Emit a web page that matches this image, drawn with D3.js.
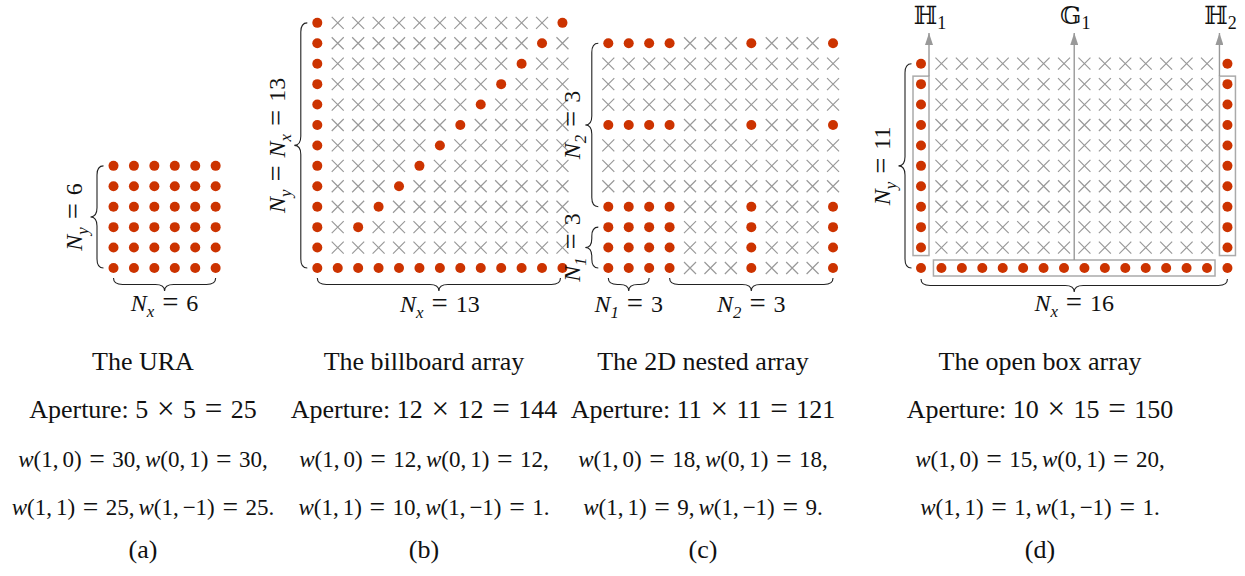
<!DOCTYPE html>
<meta charset="utf-8">
<head>
  <script type="text/javascript" src="https://cdn.jsdelivr.net/npm/d3@7/dist/d3.min.js"></script>
</head>

<style type="text/css">
  body {
    margin: 0;
    background: #fff;
    font-family: "Liberation Serif", "Times New Roman", serif;
  }
  text {
    fill: #111;
  }
  .brace {
    fill: none;
    stroke: #222;
    stroke-width: 1.1px;
  }
  .cross {
    stroke: #999;
    stroke-width: 1.2px;
  }
  .sensor {
    fill: #cc3300;
  }
  .frame {
    fill: none;
    stroke: #aaa;
    stroke-width: 1.5px;
  }
  .arrow {
    stroke: #999;
    stroke-width: 1.4px;
  }
</style>

<body>
</body>

<script type="text/javascript">

var width = 1245,
    height = 576;

var spacing = 20.43,
    rowBase = 268;

// one entry per subfigure
var gridCols = [6, 13, 12, 16];
var gridRows = [6, 13, 12, 11];
var gridLeft = [113.5, 317.3, 608.3, 921];

var nestedIdx = [0, 1, 2, 3, 7, 11];
var billboardDiag = [2, 3, 4, 5, 6, 7, 8, 9, 10, 11, 12];

var titles = ["The URA", "The billboard array", "The 2D nested array", "The open box array"];
var apertureA = [5, 12, 11, 10];
var apertureB = [5, 12, 11, 15];
var apertureSize = [25, 144, 121, 150];
var w10 = [30, 12, 18, 15];
var w01 = [30, 12, 18, 20];
var w11 = [25, 10, 9, 1];
var w1m1 = [25, 1, 9, 1];
var captions = ["(a)", "(b)", "(c)", "(d)"];
var textCenter = [143, 424, 703, 1040];

var isSensor = [
  function(c, r) { return true; },
  function(c, r) { return c == 0 || r == 0 || (c == r && billboardDiag.indexOf(r) >= 0); },
  function(c, r) { return nestedIdx.indexOf(c) >= 0 && nestedIdx.indexOf(r) >= 0; },
  function(c, r) { return c == 0 || c == 15 || r == 0; }
];

var svg = d3.select("body").append("svg")
    .attr("width", width)
    .attr("height", height);

svg.append("defs").append("marker")
    .attr("id", "head")
    .attr("viewBox", "0 0 12 8")
    .attr("refX", 12)
    .attr("refY", 4)
    .attr("markerWidth", 12)
    .attr("markerHeight", 8)
    .attr("markerUnits", "userSpaceOnUse")
    .attr("orient", "auto")
  .append("path")
    .attr("d", "M0,0 L12,4 L0,8 Z")
    .attr("fill", "#999");

// scales for every panel
var xs = [], ys = [];
for (var p = 0; p < 4; p++) {
  xs.push(d3.scaleLinear().domain([0, gridCols[p] - 1])
    .range([gridLeft[p], gridLeft[p] + spacing * (gridCols[p] - 1)]));
  ys.push(d3.scaleLinear().domain([0, gridRows[p] - 1])
    .range([rowBase, rowBase - spacing * (gridRows[p] - 1)]));
}

function bracePath(x1, y1, x2, y2, amp) {
  var dx = x2 - x1, dy = y2 - y1, L = Math.hypot(dx, dy),
      ux = dx / L, uy = dy / L, nx = -uy, ny = ux;
  function pt(t, h) { return [x1 + ux * t + nx * h, y1 + uy * t + ny * h]; }
  var h = amp / 2, r = Math.min(amp * 0.7, L / 4), m = L / 2;
  var path = d3.path();
  var a = pt(0, 0); path.moveTo(a[0], a[1]);
  var c1 = pt(0, h), e1 = pt(r, h); path.quadraticCurveTo(c1[0], c1[1], e1[0], e1[1]);
  var l1 = pt(m - r, h); path.lineTo(l1[0], l1[1]);
  var c2 = pt(m, h), e2 = pt(m, amp); path.quadraticCurveTo(c2[0], c2[1], e2[0], e2[1]);
  var e3 = pt(m + r, h); path.quadraticCurveTo(c2[0], c2[1], e3[0], e3[1]);
  var l2 = pt(L - r, h); path.lineTo(l2[0], l2[1]);
  var c4 = pt(L, h), e4 = pt(L, 0); path.quadraticCurveTo(c4[0], c4[1], e4[0], e4[1]);
  return path.toString();
}

// tiny TeX-ish typesetter: letters italic, _x subscript, = and x-sign spaced, thin space after commas
function mathText(g, str, size, lead) {
  var t = g.append("text").style("font-size", size + "px");
  if (lead) t.append("tspan").text(lead);
  var runs = [];
  for (var i = 0; i < str.length; i++) {
    var ch = str[i];
    if (ch == " ") continue;
    if (ch == "_") { runs.push({s: str[++i], k: "s"}); continue; }
    var k = /[A-Za-z]/.test(ch) ? "i" : (ch == "=" || ch == "\u00D7") ? "op" : "u";
    var last = runs[runs.length - 1];
    if (k != "op" && last && last.k == k && !last.thin) last.s += ch;
    else runs.push({s: ch, k: k});
    if (ch == ",") runs[runs.length - 1].thin = true;
  }
  var pending = lead ? size * 0.25 : 0, shift = 0, pad = size * 0.33;
  runs.forEach(function(d) {
    var ts = t.append("tspan").text(d.s);
    var dx = pending, want = 0;
    if (d.k == "i" || d.k == "s") ts.style("font-style", "italic");
    if (d.k == "s") {
      ts.style("font-size", (size * 0.7) + "px");
      want = size * 0.25;
    }
    if (d.k == "op") {
      // slightly larger relation glyph, pulled back down to the math axis
      ts.style("font-size", (size * 1.2) + "px");
      want = size * 0.05;
      dx += pad;
    }
    if (want != shift) { ts.attr("dy", want - shift); shift = want; }
    if (dx) ts.attr("dx", dx);
    pending = d.k == "op" ? pad : (d.thin ? size * 0.17 : 0);
  });
  return t;
}

function drawBrace(x1, y1, x2, y2) {
  svg.append("path").attr("class", "brace").attr("d", bracePath(x1, y1, x2, y2, 13));
}

function sideLabel(x, y, str) {
  var g = svg.append("g").attr("transform", "translate(" + x + "," + y + ") rotate(-90)");
  mathText(g, str, 24).attr("text-anchor", "middle");
}

function bottomLabel(x, y, str) {
  mathText(svg, str, 24).attr("text-anchor", "middle").attr("x", x).attr("y", y);
}

// grids
for (var p = 0; p < 4; p++) {
  var cells = [];
  for (var r = 0; r < gridRows[p]; r++)
    for (var c = 0; c < gridCols[p]; c++)
      cells.push({c: c, r: r, on: isSensor[p](c, r)});
  var g = svg.append("g");
  var x = xs[p], y = ys[p];
  g.selectAll(".cross")
    .data(cells.filter(function(d) { return !d.on; }))
    .enter().append("path")
      .attr("class", "cross")
      .attr("d", function(d) {
        var cx = x(d.c), cy = y(d.r), s = 6;
        return "M" + (cx - s) + "," + (cy - s) + "L" + (cx + s) + "," + (cy + s) +
               "M" + (cx - s) + "," + (cy + s) + "L" + (cx + s) + "," + (cy - s);
      });
  g.selectAll(".sensor")
    .data(cells.filter(function(d) { return d.on; }))
    .enter().append("circle")
      .attr("class", "sensor")
      .attr("cx", function(d) { return x(d.c); })
      .attr("cy", function(d) { return y(d.r); })
      .attr("r", 5);
}

// (a) URA
drawBrace(xs[0](0) - 10, ys[0](5), xs[0](0) - 10, ys[0](0));
drawBrace(xs[0](0), rowBase + 10, xs[0](5), rowBase + 10);
sideLabel(82, (ys[0](5) + ys[0](0)) / 2, "N_y = 6");
bottomLabel((xs[0](0) + xs[0](5)) / 2, 311, "N_x = 6");

// (b) billboard
drawBrace(xs[1](0) - 10, ys[1](12), xs[1](0) - 10, ys[1](0));
drawBrace(xs[1](0), rowBase + 10, xs[1](12) - 2, rowBase + 10);
sideLabel(285, (ys[1](12) + ys[1](0)) / 2, "N_y = N_x = 13");
bottomLabel((xs[1](0) + xs[1](12)) / 2, 312, "N_x = 13");

// (c) 2D nested
drawBrace(xs[2](0) - 10, ys[2](11), xs[2](0) - 10, ys[2](3));
drawBrace(xs[2](0) - 10, ys[2](2), xs[2](0) - 10, ys[2](0));
drawBrace(xs[2](0), rowBase + 10, xs[2](2), rowBase + 10);
drawBrace(xs[2](3), rowBase + 10, xs[2](11), rowBase + 10);
sideLabel(580, (ys[2](11) + ys[2](3)) / 2, "N_2 = 3");
sideLabel(580, (ys[2](2) + ys[2](0)) / 2, "N_1 = 3");
bottomLabel((xs[2](0) + xs[2](2)) / 2, 312, "N_1 = 3");
bottomLabel((xs[2](3) + xs[2](11)) / 2, 312, "N_2 = 3");

// (d) open box: frames and arrows
var xd = xs[3], yd = ys[3];
svg.append("rect").attr("class", "frame")
  .attr("x", xd(0) - 8).attr("y", yd(9) - 8)
  .attr("width", 16).attr("height", yd(1) - yd(9) + 16);
svg.append("rect").attr("class", "frame")
  .attr("x", xd(15) - 8).attr("y", yd(9) - 8)
  .attr("width", 16).attr("height", yd(1) - yd(9) + 16);
svg.append("rect").attr("class", "frame")
  .attr("x", xd(1) - 8).attr("y", yd(0) - 8)
  .attr("width", xd(14) - xd(1) + 16).attr("height", 16);

var arrowX = [xd(0) + 8, (xd(7) + xd(8)) / 2, xd(15) - 8];
var arrowY0 = [yd(9) - 8, yd(0) - 8, yd(9) - 8];
var arrowNames = [["\u210D", "1"], ["\uD835\uDD3E", "1"], ["\u210D", "2"]];
arrowX.forEach(function(ax, i) {
  svg.append("line").attr("class", "arrow")
    .attr("x1", ax).attr("y1", arrowY0[i])
    .attr("x2", ax).attr("y2", 33)
    .attr("marker-end", "url(#head)");
  var t = svg.append("text")
    .attr("x", ax + 1).attr("y", 24)
    .attr("text-anchor", "middle")
    .style("font-family", "'DejaVu Serif', 'DejaVu Sans', serif")
    .style("font-size", "25px");
  t.append("tspan").text(arrowNames[i][0]);
  t.append("tspan").text(arrowNames[i][1]).attr("dy", 5)
    .style("font-family", "'Liberation Serif', serif").style("font-size", "18px");
});

drawBrace(xd(0) - 9.5, yd(10), xd(0) - 9.5, yd(0));
drawBrace(xd(0), rowBase + 11, xd(15), rowBase + 11);
sideLabel(890, (yd(10) + yd(0)) / 2, "N_y = 11");
bottomLabel((xd(0) + xd(15)) / 2, 311, "N_x = 16");

// captions under every subfigure
var rowsY = [370, 418, 467, 515, 558];
titles.forEach(function(tt, i) {
  var cx = textCenter[i];
  svg.append("text").attr("x", cx).attr("y", rowsY[0]).attr("text-anchor", "middle")
    .style("font-size", "26px").text(tt);

  mathText(svg, apertureA[i] + " \u00D7 " + apertureB[i] + " = " + apertureSize[i], 26, "Aperture:")
    .attr("text-anchor", "middle").attr("x", cx).attr("y", rowsY[1]);

  mathText(svg, "w(1,0) = " + w10[i] + ", w(0,1) = " + w01[i] + ",", 23)
    .attr("text-anchor", "middle").attr("x", cx).attr("y", rowsY[2]);
  mathText(svg, "w(1,1) = " + w11[i] + ", w(1,\u22121) = " + w1m1[i] + ".", 23)
    .attr("text-anchor", "middle").attr("x", cx).attr("y", rowsY[3]);

  svg.append("text").attr("x", cx).attr("y", rowsY[4]).attr("text-anchor", "middle")
    .style("font-size", "26px").text(captions[i]);
});

</script>
</html>
